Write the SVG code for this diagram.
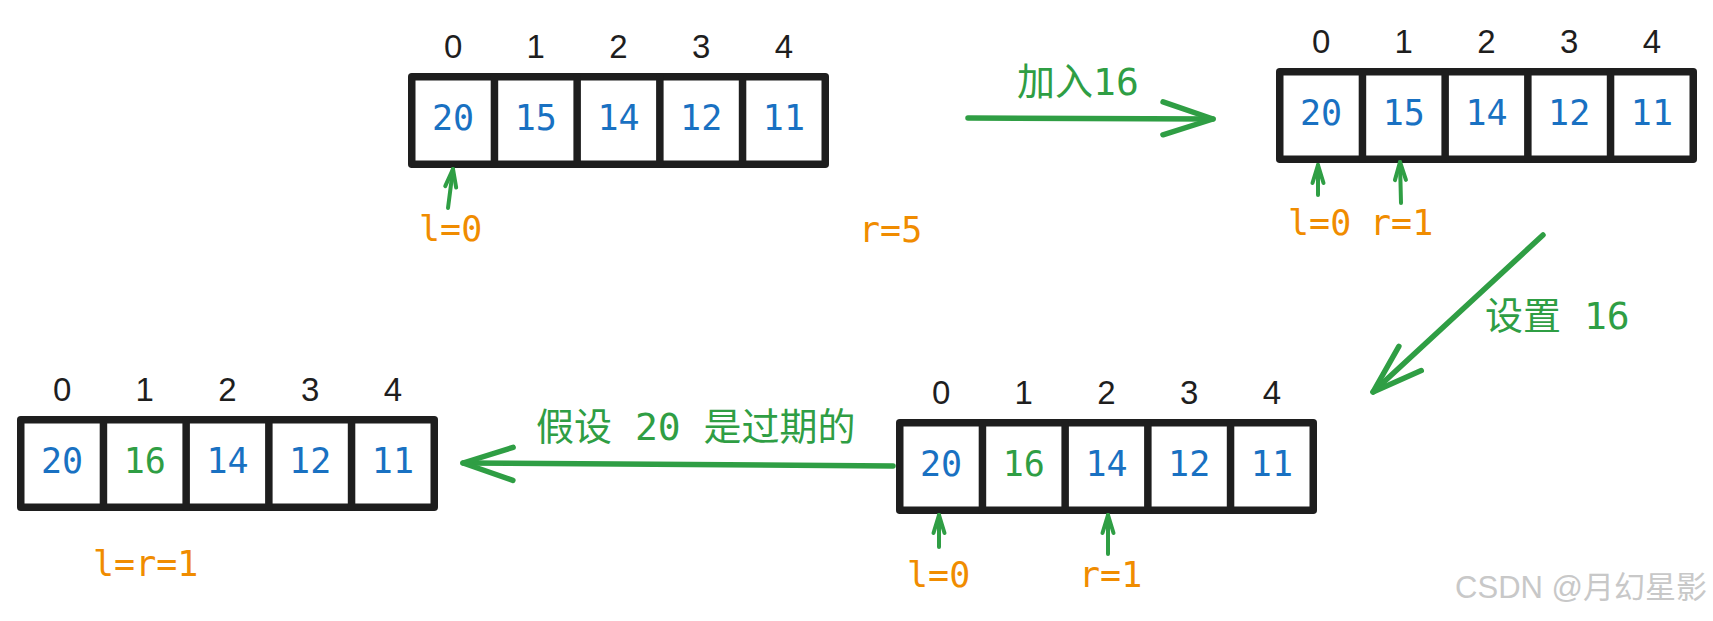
<svg xmlns="http://www.w3.org/2000/svg" width="1713" height="621" viewBox="0 0 1713 621">
<style>
.box{fill:#ffffff;stroke:#1e1e1e;stroke-width:7.5;stroke-linejoin:round}
.div{stroke:#1e1e1e;stroke-width:7.5;stroke-linecap:round}
.idx{font-family:"Liberation Sans",sans-serif;font-size:33px;fill:#1e1e1e;text-anchor:middle}
.val{font-family:"DejaVu Sans Mono",monospace;font-size:35px;fill:#1971c2;text-anchor:middle}
.val.g{fill:#2f9e44}
.ptr{font-family:"DejaVu Sans Mono",monospace;font-size:35px;fill:#f08c00}
.lbl{font-family:"DejaVu Sans Mono","Noto Sans CJK SC",sans-serif;font-size:38px;fill:#2f9e44}
.sm{stroke:#2f9e44;stroke-width:4;stroke-linecap:round;fill:none}
.big{stroke:#2f9e44;stroke-width:5.5;stroke-linecap:round;fill:none}
.wm{font-family:"Liberation Sans","Noto Sans CJK SC",sans-serif;font-size:31px;fill:#c8c8c8;text-anchor:end}
</style>
<defs>
<marker id="hs" markerUnits="userSpaceOnUse" viewBox="-22 -9 26 18" refX="0" refY="0" markerWidth="26" markerHeight="18" orient="auto" overflow="visible">
<path d="M-18,-5.5 L0,0 L-18,5.5" fill="none" stroke="#2f9e44" stroke-width="4" stroke-linecap="round" stroke-linejoin="round"/>
</marker>
<marker id="hb" markerUnits="userSpaceOnUse" viewBox="-55 -20 60 40" refX="0" refY="0" markerWidth="60" markerHeight="40" orient="auto" overflow="visible">
<path d="M-50,-17 L0,0 L-50,16" fill="none" stroke="#2f9e44" stroke-width="5.5" stroke-linecap="round" stroke-linejoin="round"/>
</marker>
</defs>
<rect width="1713" height="621" fill="#ffffff"/>

<g id="array1" transform="translate(408,73)">
<rect class="box" x="3.75" y="3.75" width="413.5" height="87.5"/>
<line class="div" x1="86.45" y1="3.75" x2="86.45" y2="91.25"/>
<line class="div" x1="169.15" y1="3.75" x2="169.15" y2="91.25"/>
<line class="div" x1="251.85" y1="3.75" x2="251.85" y2="91.25"/>
<line class="div" x1="334.55" y1="3.75" x2="334.55" y2="91.25"/>
<text class="idx" x="45.1" y="-15">0</text><text class="idx" x="127.8" y="-15">1</text><text class="idx" x="210.5" y="-15">2</text><text class="idx" x="293.2" y="-15">3</text><text class="idx" x="375.9" y="-15">4</text>
<text class="val" x="45.1" y="57">20</text><text class="val" x="127.8" y="57">15</text><text class="val" x="210.5" y="57">14</text><text class="val" x="293.2" y="57">12</text><text class="val" x="375.9" y="57">11</text>
</g>

<g id="array2" transform="translate(1276,68)">
<rect class="box" x="3.75" y="3.75" width="413.5" height="87.5"/>
<line class="div" x1="86.45" y1="3.75" x2="86.45" y2="91.25"/>
<line class="div" x1="169.15" y1="3.75" x2="169.15" y2="91.25"/>
<line class="div" x1="251.85" y1="3.75" x2="251.85" y2="91.25"/>
<line class="div" x1="334.55" y1="3.75" x2="334.55" y2="91.25"/>
<text class="idx" x="45.1" y="-15">0</text><text class="idx" x="127.8" y="-15">1</text><text class="idx" x="210.5" y="-15">2</text><text class="idx" x="293.2" y="-15">3</text><text class="idx" x="375.9" y="-15">4</text>
<text class="val" x="45.1" y="57">20</text><text class="val" x="127.8" y="57">15</text><text class="val" x="210.5" y="57">14</text><text class="val" x="293.2" y="57">12</text><text class="val" x="375.9" y="57">11</text>
</g>

<g id="array3" transform="translate(17,416)">
<rect class="box" x="3.75" y="3.75" width="413.5" height="87.5"/>
<line class="div" x1="86.45" y1="3.75" x2="86.45" y2="91.25"/>
<line class="div" x1="169.15" y1="3.75" x2="169.15" y2="91.25"/>
<line class="div" x1="251.85" y1="3.75" x2="251.85" y2="91.25"/>
<line class="div" x1="334.55" y1="3.75" x2="334.55" y2="91.25"/>
<text class="idx" x="45.1" y="-15">0</text><text class="idx" x="127.8" y="-15">1</text><text class="idx" x="210.5" y="-15">2</text><text class="idx" x="293.2" y="-15">3</text><text class="idx" x="375.9" y="-15">4</text>
<text class="val" x="45.1" y="57">20</text><text class="val g" x="127.8" y="57">16</text><text class="val" x="210.5" y="57">14</text><text class="val" x="293.2" y="57">12</text><text class="val" x="375.9" y="57">11</text>
</g>

<g id="array4" transform="translate(896,419)">
<rect class="box" x="3.75" y="3.75" width="413.5" height="87.5"/>
<line class="div" x1="86.45" y1="3.75" x2="86.45" y2="91.25"/>
<line class="div" x1="169.15" y1="3.75" x2="169.15" y2="91.25"/>
<line class="div" x1="251.85" y1="3.75" x2="251.85" y2="91.25"/>
<line class="div" x1="334.55" y1="3.75" x2="334.55" y2="91.25"/>
<text class="idx" x="45.1" y="-15">0</text><text class="idx" x="127.8" y="-15">1</text><text class="idx" x="210.5" y="-15">2</text><text class="idx" x="293.2" y="-15">3</text><text class="idx" x="375.9" y="-15">4</text>
<text class="val" x="45.1" y="57">20</text><text class="val g" x="127.8" y="57">16</text><text class="val" x="210.5" y="57">14</text><text class="val" x="293.2" y="57">12</text><text class="val" x="375.9" y="57">11</text>
</g>

<g id="pointers">
<text class="ptr" x="419" y="241">l=0</text>
<text class="ptr" x="859" y="242">r=5</text>
<text class="ptr" x="1288" y="235">l=0</text>
<text class="ptr" x="1370" y="235">r=1</text>
<text class="ptr" x="93" y="576">l=r=1</text>
<text class="ptr" x="907" y="587">l=0</text>
<text class="ptr" x="1079" y="587">r=1</text>
</g>

<g id="connectors">
<line class="sm" x1="448" y1="208" x2="453" y2="169" marker-end="url(#hs)"/>
<line class="sm" x1="1318" y1="195" x2="1318" y2="165" marker-end="url(#hs)"/>
<line class="sm" x1="1401" y1="203" x2="1400" y2="162" marker-end="url(#hs)"/>
<line class="sm" x1="939" y1="547" x2="939" y2="515" marker-end="url(#hs)"/>
<line class="sm" x1="1108" y1="554" x2="1108" y2="515" marker-end="url(#hs)"/>
<line class="big" x1="968" y1="118" x2="1213" y2="119" marker-end="url(#hb)"/>
<line class="big" x1="1543" y1="235" x2="1373" y2="392" marker-end="url(#hb)"/>
<line class="big" x1="893" y1="466" x2="463" y2="463" marker-end="url(#hb)"/>
<text class="lbl" x="1017" y="95">加入16</text>
<text class="lbl" x="1485" y="329">设置 16</text>
<text class="lbl" x="536" y="440">假设 20 是过期的</text>
</g>

<text class="wm" x="1707" y="598">CSDN @月幻星影</text>
</svg>
